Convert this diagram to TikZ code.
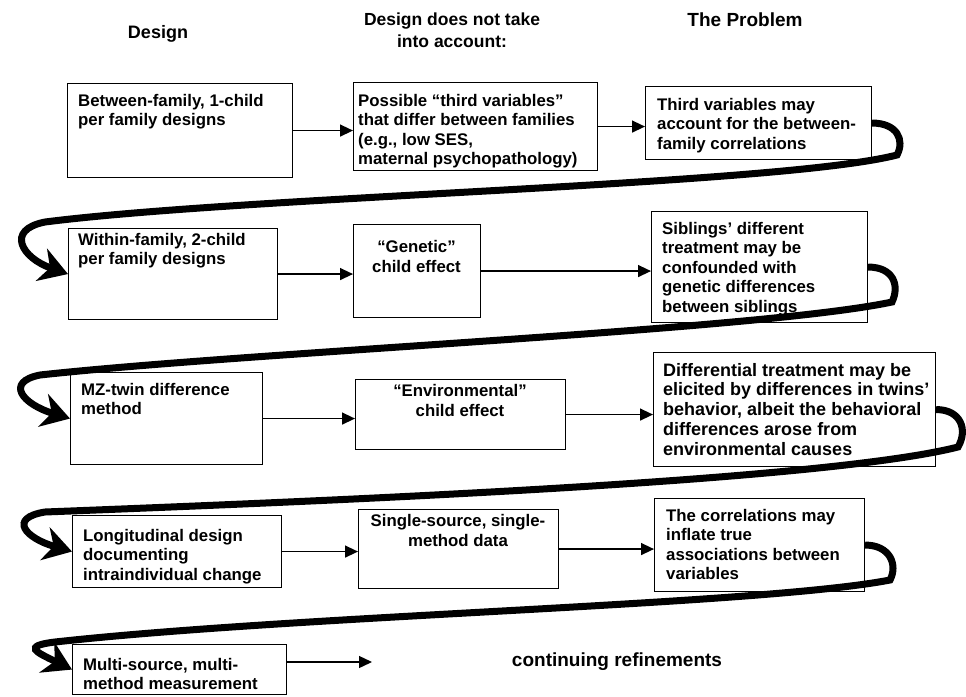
\documentclass[tikz,border=0pt]{standalone}
\usepackage{fontspec}
\setmainfont{Liberation Sans}
\usetikzlibrary{arrows.meta}
\begin{document}
\begin{tikzpicture}[x=1pt,y=-1pt,
  box/.style={draw, line width=1.1pt, inner sep=0pt, anchor=north west},
  txt/.style={inner sep=0pt, anchor=north west, align=left, font=\bfseries\fontsize{16.8}{19.5}\selectfont},
  ctxt/.style={inner sep=0pt, anchor=north, align=center, font=\bfseries\fontsize{16.8}{20.5}\selectfont},
  head/.style={inner sep=0pt, anchor=north, align=center, font=\bfseries\fontsize{18}{22}\selectfont},
  conn/.style={line width=1.4pt, -{Triangle[length=13pt,width=12pt]}},
  sweep/.style={line width=7pt, -{Stealth[length=28pt,width=34pt,inset=9pt]}}]
\useasboundingbox (0,0) rectangle (966,696);
% headers
\node[head] (h1) at (158,25) {Design};
\node[head, font=\bfseries\fontsize{17.5}{22}\selectfont] (h2) at (452,13) {Design does not take\\into account:};
\node[head, font=\bfseries\fontsize{19}{22}\selectfont] (h3) at (745,13) {The Problem};
% row 1
\node[box, minimum width=225pt, minimum height=94pt] (a1) at (67,83) {};
\node[box, minimum width=244pt, minimum height=88pt] (b1) at (353,82) {};
\node[box, minimum width=226pt, minimum height=73pt] (c1) at (645,86) {};
\node[txt] (a1t) at (78,94) {Between-family, 1-child\\per family designs};
\node[txt] (b1t) at (358,94) {Possible “third variables”\\that differ between families\\(e.g., low SES,\\maternal psychopathology)};
\node[txt] (c1t) at (657,98) {Third variables may\\account for the between-\\family correlations};
% row 2
\node[box, minimum width=209pt, minimum height=91pt] (a2) at (68,228) {};
\node[box, minimum width=127pt, minimum height=93pt] (b2) at (353,224) {};
\node[box, minimum width=216pt, minimum height=111pt] (c2) at (651,211) {};
\node[txt] (a2t) at (78,233) {Within-family, 2-child\\per family designs};
\node[ctxt] (b2t) at (416.5,240) {“Genetic”\\child effect};
\node[txt] (c2t) at (662,222) {Siblings’ different\\treatment may be\\confounded with\\genetic differences\\between siblings};
% row 3
\node[box, minimum width=192pt, minimum height=92pt] (a3) at (70,372) {};
\node[box, minimum width=210pt, minimum height=70pt] (b3) at (355,379) {};
\node[box, minimum width=282pt, minimum height=114pt] (c3) at (653,352) {};
\node[txt] (a3t) at (81,383) {MZ-twin difference\\method};
\node[ctxt] (b3t) at (460,384) {“Environmental”\\child effect};
\node[txt, font=\bfseries\fontsize{18}{19.7}\selectfont] (c3t) at (663,363) {Differential treatment may be\\elicited by differences in twins’\\behavior, albeit the behavioral\\differences arose from\\environmental causes};
% row 4
\node[box, minimum width=209pt, minimum height=72pt] (a4) at (72,515) {};
\node[box, minimum width=200pt, minimum height=79pt] (b4) at (358,509) {};
\node[box, minimum width=210pt, minimum height=93pt] (c4) at (654,498) {};
\node[txt] (a4t) at (83,529) {Longitudinal design\\documenting\\intraindividual change};
\node[ctxt] (b4t) at (458,514) {Single-source, single-\\method data};
\node[txt] (c4t) at (666,509) {The correlations may\\inflate true\\associations between\\variables};
% row 5
\node[box, minimum width=214pt, minimum height=50pt] (a5) at (72,644) {};
\node[txt] (a5t) at (83,658) {Multi-source, multi-\\method measurement};
\coordinate (e5) at (372,662);
\node[font=\bfseries\fontsize{19}{22}\selectfont, inner sep=0pt] (cr) at (617,662) {continuing refinements};
% thin arrows
\draw[conn] (a1.east) -- (a1.east -| b1.west);
\draw[conn] (b1.east) -- (b1.east -| c1.west);
\draw[conn] (a2.east) -- (a2.east -| b2.west);
\draw[conn] (b2.east) -- (b2.east -| c2.west);
\draw[conn] (a3.east) -- (a3.east -| b3.west);
\draw[conn] (b3.east) -- (b3.east -| c3.west);
\draw[conn] (a4.east) -- (a4.east -| b4.west);
\draw[conn] (b4.east) -- (b4.east -| c4.west);
\draw[conn] (a5.east |- e5) -- (e5);
% thick sweeping arrows
\draw[sweep] (c1.east) .. controls +(25,0) and (905,140) .. (897,155)
  .. controls (780,185) and (250,196) .. (45,222)
  .. controls (5,230) and (22,258) .. (a2.west);
\draw[sweep] (c2.east) .. controls +(25,0) and (900,285) .. (892,302)
  .. controls (760,330) and (250,352) .. (40,375)
  .. controls (5,382) and (22,404) .. (a3.west);
\draw[sweep] (c3.east) .. controls +(25,0) and (968,430) .. (958,447)
  .. controls (820,482) and (300,502) .. (45,512)
  .. controls (8,518) and (25,538) .. (a4.west);
\draw[sweep] (c4.east) .. controls +(25,0) and (898,565) .. (890,580)
  .. controls (760,605) and (300,615) .. (55,642)
  .. controls (22,646) and (36,652) .. (a5.west);
\end{tikzpicture}
\end{document}
